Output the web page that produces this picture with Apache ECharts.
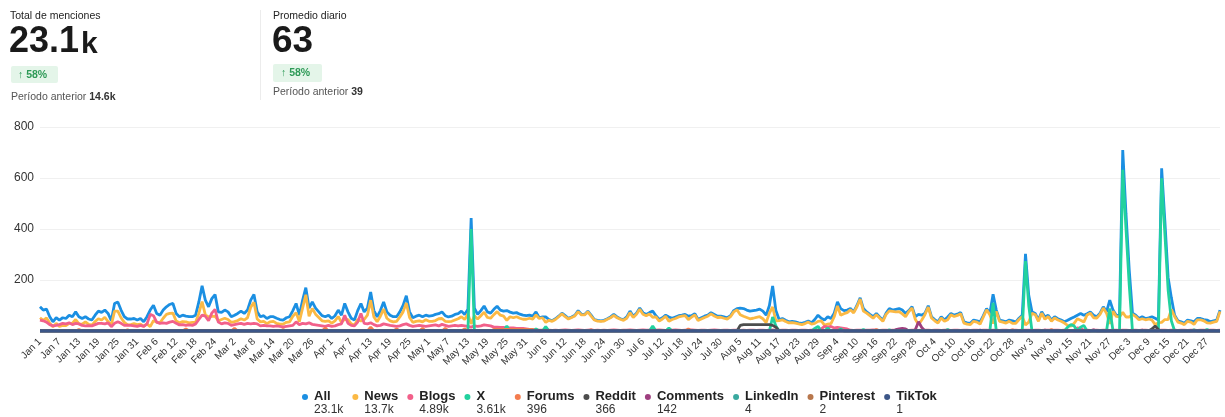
<!DOCTYPE html>
<html>
<head>
<meta charset="utf-8">
<title>Menciones</title>
<script src="https://cdn.jsdelivr.net/npm/echarts@6/dist/echarts.min.js"></script>
<style>
  html, body { margin: 0; padding: 0; background: #fff; }
  #chart { width: 1225px; height: 417px; }
</style>
</head>
<body>
<div id="chart"></div>
<script>
// dias del año (no bisiesto)
const months = ['Jan','Feb','Mar','Apr','May','Jun','Jul','Aug','Sep','Oct','Nov','Dec']
const daysInMonth = [31,28,31,30,31,30,31,31,30,31,30,31]

const seriesNames = ['All','News','Blogs','X','Forums','Reddit','Comments','LinkedIn','Pinterest','TikTok']
const seriesTotals = ['23.1k','13.7k','4.89k','3.61k','396','366','142','4','2','1']
const yTicks = [0, 200, 400, 600, 800]

// series diarias completas
const allData = [
  95,82,86,56,36,52,43,52,49,62,56,75,56,49,56,47,43,62,78,73,82,69,40,108,114,82,56,47,47,49,43,
  49,36,56,82,101,69,62,82,95,104,108,69,56,62,58,56,56,62,114,177,121,95,127,143,75,73,82,75,
  56,62,69,78,69,82,121,143,75,56,60,49,56,56,50,45,43,52,56,80,108,62,120,170,90,114,90,75,60,56,62,
  49,60,82,62,108,75,50,43,80,108,75,90,153,80,56,80,114,75,62,56,56,75,100,138,75,52,58,62,56,62,
  58,60,65,68,75,60,55,58,65,68,78,65,85,443,90,65,80,98,75,70,85,97,82,78,80,74,70,72,66,62,60,
  62,58,75,52,55,55,45,40,48,58,70,60,50,55,62,80,66,65,78,62,45,42,40,42,48,55,65,55,48,45,
  55,78,58,70,90,72,65,72,78,60,45,52,62,55,50,55,60,62,65,58,60,68,45,52,58,62,72,65,58,58,55,
  52,60,80,88,90,88,82,78,80,82,86,78,62,100,177,80,45,49,42,36,38,36,32,30,34,39,32,45,62,50,43,
  56,49,70,114,88,80,82,88,75,100,130,88,75,65,56,69,55,43,70,88,82,85,88,82,69,80,95,56,65,62,
  70,99,56,45,36,56,43,55,69,62,66,73,36,32,30,43,40,36,60,88,69,144,82,43,40,36,43,40,35,50,62,
  303,140,75,69,43,75,55,62,43,56,48,43,36,42,49,55,62,69,62,68,75,62,56,70,95,75,121,82,62,60,
  710,460,240,70,62,49,56,49,52,56,50,43,638,430,210,130,62,40,36,30,43,40,36,49,49,45,43,36,40,43,82
]
const newsData = [
  52,42,51,31,16,30,18,22,21,30,31,45,28,27,36,26,23,37,48,43,54,37,23,78,78,52,34,24,25,29,25,
  27,18,28,17,41,34,32,50,65,69,70,39,32,37,36,32,34,34,69,115,63,55,57,58,40,45,50,45,
  34,37,41,48,43,52,93,113,47,36,38,29,36,38,30,27,27,34,36,58,72,37,90,142,58,88,66,53,40,38,40,
  31,40,57,34,46,45,28,23,45,39,45,62,121,55,36,58,86,50,40,36,38,55,75,110,53,34,38,40,36,44,
  38,38,41,48,49,38,37,38,43,48,56,45,67,28,60,47,60,74,53,50,64,76,62,58,42,56,52,56,50,46,46,
  50,47,63,49,52,34,42,38,45,56,67,56,47,53,59,76,63,63,75,58,43,39,38,39,46,52,61,52,46,42,
  50,72,53,66,85,66,60,67,54,55,39,47,58,38,45,49,55,58,60,45,54,63,41,47,53,58,67,59,53,54,50,
  47,56,75,83,64,58,53,48,50,53,56,48,33,70,94,40,41,44,37,32,33,31,28,25,29,35,27,30,38,40,23,
  27,29,56,98,62,68,72,83,71,95,125,78,70,60,50,64,51,38,65,79,77,75,76,67,56,76,90,46,25,43,
  65,94,51,40,31,51,38,44,64,57,61,68,31,27,25,38,35,27,55,83,64,29,77,38,35,31,38,30,30,45,57,
  24,35,70,64,38,70,46,57,38,51,43,38,31,22,19,30,48,42,35,63,70,52,51,65,90,70,28,77,57,55,
  73,55,55,65,57,44,48,44,47,43,25,33,34,45,45,85,57,35,31,25,38,35,26,44,44,40,32,31,35,38,77
]
const blogsData = [
  43,40,35,25,20,22,25,30,28,32,25,30,28,22,20,21,20,25,30,30,28,32,17,30,36,30,22,23,22,20,18,
  22,18,28,65,60,35,30,32,30,35,38,30,24,25,22,24,22,28,45,62,58,40,70,85,35,28,32,30,
  22,25,28,30,26,30,28,30,28,20,22,20,20,18,20,18,16,18,20,22,36,25,30,28,32,26,24,22,20,18,22,
  18,20,25,28,62,30,22,20,35,69,30,28,32,25,20,22,28,25,22,20,18,20,25,28,22,18,20,22,20,18,
  20,22,24,20,26,22,18,20,22,20,22,20,18,15,20,18,20,24,22,20,15,15,14,14,12,12,12,10,10,10,8,
  6,5,4,3,3,4,3,2,3,2,3,4,3,2,3,4,3,2,3,4,2,3,2,3,2,3,4,3,2,3,
  3,4,3,2,3,4,3,3,2,3,4,3,2,3,3,4,3,2,3,3,4,3,2,3,3,2,3,4,3,2,3,
  3,2,3,3,2,3,2,3,3,2,3,3,2,3,4,3,2,3,3,2,3,3,2,3,3,2,3,3,4,8,18,
  15,18,12,14,12,10,8,3,2,3,3,2,3,3,4,3,2,3,3,2,3,3,2,3,3,2,3,3,2,3,
  3,3,2,3,3,2,3,3,2,3,3,2,3,3,2,3,3,2,3,3,2,3,3,2,3,3,2,3,3,2,3,
  3,3,2,3,3,2,3,3,2,3,3,2,3,3,2,3,12,10,3,3,2,3,3,2,3,3,2,3,3,2,
  3,3,2,3,3,2,3,3,2,3,3,2,3,3,2,3,3,2,3,3,2,3,3,2,3,3,2,3,3,2,3
]

// series dispersas: [dia del año, valor], el resto es 0
const xPoints = [[133,400],[144,20],[153,8],[156,17],[189,20],[194,12],[226,55],[227,20],[239,10],[240,18],
  [243,12],[247,8],[254,6],[262,5],[280,6],[294,110],[304,274],[305,100],[317,15],[318,25],[319,20],[321,15],
  [322,22],[330,88],[334,632],[335,400],[336,180],[346,599],[347,380],[348,160],[349,40],[356,5],[360,6]]
const forumsPoints = [[12,6],[27,5],[45,8],[60,10],[75,6],[88,12],[102,15],[110,8],[118,10],[125,10],[131,8],
  [140,6],[141,6],[142,6],[143,6],[144,6],[145,6],[146,6],[147,6],[148,6],[149,6],[150,6],[151,6],[152,6],
  [170,5],[200,8],[258,6],[300,5],[312,6]]
const redditPoints = [[216,22],[217,25],[218,25],[219,25],[220,25],[221,25],[222,25],[223,25],[224,25],[225,25],
  [226,22],[227,15],[247,4],[343,8],[344,20],[345,5]]
const commentsPoints = [[264,5],[265,8],[266,10],[267,8],[270,5],[271,36],[272,14],[290,4],[310,4],[325,5],[340,3]]
const linkedinPoints = [[205,2],[318,2]]
const pinterestPoints = [[180,2]]
const tiktokPoints = [[290,1]]

const colors = ['#1b8fe2','#fbb944','#f2608a','#22d19e','#f47c4e','#4d4d4d','#9e3f7f','#3aa99f','#b8774d','#3c5688']

let categories = []
for (let m in months) {
  for (let d = 1; d <= daysInMonth[m]; d++) {
    categories.push(months[m] + ' ' + d)
  }
}

function fromPoints(points){
  let arr = categories.map(() => 0)
  for (let p of points) {
    arr[p[0]] = p[1]
  }
  return arr
}

const seriesData = [
  allData, newsData, blogsData,
  fromPoints(xPoints), fromPoints(forumsPoints), fromPoints(redditPoints),
  fromPoints(commentsPoints), fromPoints(linkedinPoints), fromPoints(pinterestPoints), fromPoints(tiktokPoints)
]

const fontFam = "'Helvetica Neue', Helvetica, Arial, 'Liberation Sans', sans-serif"

let myChart = echarts.init(document.getElementById('chart'))

let option = {
  animation: false,
  color: colors,
  textStyle: { fontFamily: fontFam },
  grid: {
    left: 40,
    right: 5,
    top: 127,
    bottom: 86
  },
  xAxis: {
    type: 'category',
    boundaryGap: false,
    data: categories,
    axisLine: { show: false },
    axisTick: { show: false },
    axisLabel: {
      interval: 5,
      rotate: 45,
      fontSize: 10,
      color: '#333',
      margin: 9
    }
  },
  yAxis: {
    type: 'value',
    min: yTicks[0],
    max: yTicks[yTicks.length - 1],
    interval: yTicks[1] - yTicks[0],
    axisLine: { show: false },
    axisTick: { show: false },
    axisLabel: {
      showMinLabel: false,
      fontSize: 12,
      color: '#333',
      margin: 6
    },
    splitLine: { lineStyle: { color: '#f0f0f0' } }
  },
  legend: {
    left: 297,
    top: 385,
    icon: 'circle',
    itemWidth: 6,
    itemHeight: 6,
    itemGap: 9,
    data: seriesNames,
    formatter: (name) => {
      let i = seriesNames.indexOf(name)
      return '{n|' + name + '}\n{v|' + seriesTotals[i] + '}'
    },
    textStyle: {
      padding: [13, 0, 0, 1],
      rich: {
        n: { fontSize: 13, fontWeight: 'bold', color: '#222', lineHeight: 13, fontFamily: fontFam },
        v: { fontSize: 12, color: '#333', lineHeight: 14, fontFamily: fontFam }
      }
    }
  },
  series: seriesNames.map((name, i) => ({
    name: name,
    type: 'line',
    data: seriesData[i],
    symbol: 'none',
    lineStyle: { width: name === 'TikTok' ? 3.5 : 2.8 },
    emphasis: { disabled: true }
  })),
  graphic: [
    { type: 'text', left: 10, top: 11, style: { text: 'Total de menciones', fill: '#222', font: '10.5px ' + fontFam } },
    { type: 'text', x: 9, y: 42, style: { text: '23.1', fill: '#1a1a1a', font: 'bold 36px ' + fontFam, verticalAlign: 'middle' } },
    { type: 'text', x: 81, y: 45, style: { text: 'k', fill: '#1a1a1a', font: 'bold 30px ' + fontFam, verticalAlign: 'middle' } },
    { type: 'rect', shape: { x: 11, y: 66, width: 47, height: 17, r: 2 }, style: { fill: '#e4f5e9' } },
    { type: 'text', x: 18, y: 75, style: { text: '↑ 58%', fill: '#2e9a57', font: 'bold 10.5px ' + fontFam, verticalAlign: 'middle' } },
    { type: 'text', x: 11, y: 97, style: { rich: { b: { fontWeight: 'bold', fill: '#333', fontSize: 10.5, fontFamily: fontFam } }, text: 'Período anterior {b|14.6k}', fill: '#555', font: '10.5px ' + fontFam, verticalAlign: 'middle' } },

    { type: 'line', shape: { x1: 260.5, y1: 10, x2: 260.5, y2: 100 }, style: { stroke: '#ececec', lineWidth: 1 } },

    { type: 'text', left: 273, top: 11, style: { text: 'Promedio diario', fill: '#222', font: '10.5px ' + fontFam } },
    { type: 'text', x: 272, y: 42, style: { text: '63', fill: '#1a1a1a', font: 'bold 37px ' + fontFam, verticalAlign: 'middle' } },
    { type: 'rect', shape: { x: 273, y: 64, width: 49, height: 18, r: 2 }, style: { fill: '#e4f5e9' } },
    { type: 'text', x: 281, y: 73, style: { text: '↑ 58%', fill: '#2e9a57', font: 'bold 10.5px ' + fontFam, verticalAlign: 'middle' } },
    { type: 'text', x: 273, y: 92, style: { rich: { b: { fontWeight: 'bold', fill: '#333', fontSize: 10.5, fontFamily: fontFam } }, text: 'Período anterior {b|39}', fill: '#555', font: '10.5px ' + fontFam, verticalAlign: 'middle' } }
  ]
}

myChart.setOption(option)
</script>
</body>
</html>
